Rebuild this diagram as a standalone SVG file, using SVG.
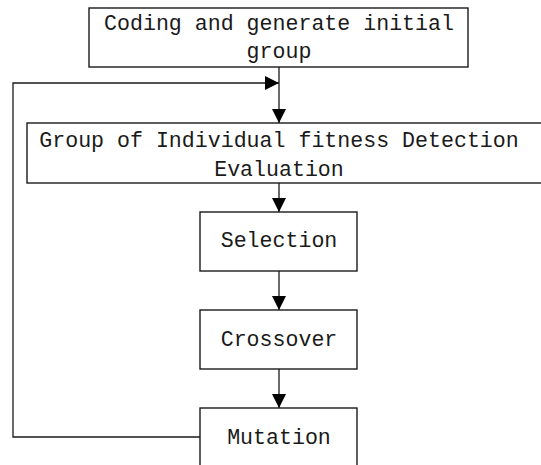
<svg xmlns="http://www.w3.org/2000/svg" width="541" height="465" viewBox="0 0 541 465">
  <style>
    .box { fill: #ffffff; stroke: #1a1a1a; stroke-width: 1.4; }
    .lbl { font-family: "Liberation Mono", "DejaVu Sans Mono", monospace; font-size: 21.6px; fill: #1a1a1a; text-anchor: middle; }
    .wire { fill: none; stroke: #1a1a1a; stroke-width: 1.3; }
  </style>
  <defs>
    <marker id="head" markerUnits="userSpaceOnUse" markerWidth="14" markerHeight="14" viewBox="0 0 14 14" refX="14" refY="7" orient="auto">
      <path d="M0,0 L14,7 L0,14 z" fill="#000"/>
    </marker>
  </defs>
  <rect width="541" height="465" fill="#ffffff"/>

  <g id="connectors">
    <line class="wire" x1="279" y1="67" x2="279" y2="123" marker-end="url(#head)"/>
    <polyline class="wire" points="200,437 13,437 13,83 279,83" marker-end="url(#head)"/>
    <line class="wire" x1="279" y1="183" x2="279" y2="212" marker-end="url(#head)"/>
    <line class="wire" x1="279" y1="271" x2="279" y2="310" marker-end="url(#head)"/>
    <line class="wire" x1="279" y1="369" x2="279" y2="408" marker-end="url(#head)"/>
  </g>

  <g id="init">
    <rect class="box" x="89" y="8" width="379" height="59"/>
    <text class="lbl" x="279" y="30">Coding and generate initial</text>
    <text class="lbl" x="279" y="58">group</text>
  </g>

  <g id="evaluation">
    <rect class="box" x="27" y="123" width="530" height="60"/>
    <text class="lbl" x="279" y="147">Group of Individual fitness Detection</text>
    <text class="lbl" x="279" y="176">Evaluation</text>
  </g>

  <g id="selection">
    <rect class="box" x="200" y="212" width="157" height="59"/>
    <text class="lbl" x="279" y="247">Selection</text>
  </g>

  <g id="crossover">
    <rect class="box" x="200" y="310" width="157" height="59"/>
    <text class="lbl" x="279" y="346">Crossover</text>
  </g>

  <g id="mutation">
    <rect class="box" x="200" y="408" width="157" height="62"/>
    <text class="lbl" x="279" y="444">Mutation</text>
  </g>
</svg>
